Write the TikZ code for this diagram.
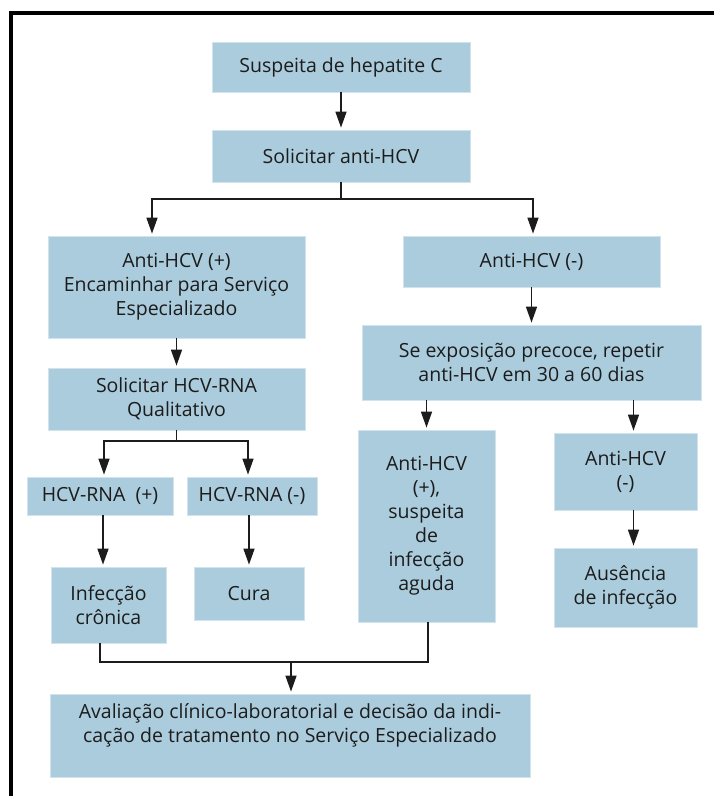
\documentclass[tikz,border=0pt]{standalone}
\usepackage{fontspec}
\setmainfont{Open Sans}
\usetikzlibrary{arrows.meta}
\definecolor{boxblue}{RGB}{171,204,220}
\definecolor{inkgray}{RGB}{28,28,28}
\tikzset{
  box/.style={fill=boxblue, draw=boxblue!55!white, line width=0.8pt, align=center,
    inner sep=0pt, text=inkgray, font=\fontsize{19.5}{24}\selectfont},
  wh/.style 2 args={minimum width=#1, minimum height=#2},
  link/.style={draw=inkgray, line width=1.5pt},
  arr/.style={link, shorten >=2pt, -{Triangle[width=11pt,length=16pt]}},
}
\begin{document}
\begin{tikzpicture}[x=1pt, y=-1pt]
   \useasboundingbox (0,0) rectangle (714,796);
   % frame
   \draw[line width=4pt] (11,796) -- (11,13) -- (714,13);
   % boxes
   \node[box, wh={258pt}{50pt}] (susp) at (341,67) {Suspeita de hepatite C};
   \node[box, wh={258pt}{52pt}] (solic) at (341,156) {Solicitar anti-HCV};
   \node[box, wh={257pt}{102pt}] (pos) at (176.5,287) {Anti-HCV (+)\\Encaminhar para Serviço\\Especializado};
   \node[box, wh={257pt}{51pt}] (neg) at (531.5,261.5) {Anti-HCV (-)};
   \node[box, wh={339pt}{75pt}] (expo) at (531.5,362.5) {Se exposição precoce, repetir\\anti-HCV em 30 a 60 dias};
   \node[box, wh={257pt}{62pt}] (rna) at (176.5,399) {Solicitar HCV-RNA\\Qualitativo};
   \node[box, wh={146pt}{38pt}] (rnapos) at (100,496) {HCV-RNA~~(+)};
   \node[box, wh={130pt}{38pt}] (rnaneg) at (252,496) {HCV-RNA (-)};
   \node[box, wh={115pt}{76pt}] (cron) at (108.5,605) {Infecção\\crônica};
   \node[box, wh={110pt}{53pt}] (cura) at (249,593.5) {Cura};
   \node[box, wh={137pt}{192pt}] (aguda) at (426.5,526) {Anti-HCV\\(+),\\suspeita\\de\\infecção\\aguda};
   \node[box, wh={143pt}{77pt}] (neg2) at (625.5,471.5) {Anti-HCV\\(-)};
   \node[box, wh={143pt}{79pt}] (ausen) at (625.5,587.5) {Ausência\\de infecção};
   \node[box, wh={480pt}{83pt}, text depth=24pt] (aval) at (290,735.5) {Avaliação clínico-laboratorial e decisão da indi-\\cação de tratamento no Serviço Especializado};
   % joints
   \coordinate (j1) at (341,199);
   \coordinate (j2) at (176.5,441);
   \coordinate (j3) at (291,662);
   \coordinate (n2) at ([xshift=8pt]neg2.north);
   % connectors
   \draw[arr] (susp) -- (solic);
   \draw[link] (solic) -- (j1);
   \draw[arr] (j1) -| ([xshift=-24.5pt]pos.north);
   \draw[arr] (j1) -| ([xshift=1.5pt]neg.north);
   \draw[arr] (pos) -- (rna);
   \draw[arr] (neg) -- (expo);
   \draw[link] (rna) -- (j2);
   \draw[arr] (j2) -| ([xshift=4pt]rnapos.north);
   \draw[arr] (j2) -| ([xshift=-4pt]rnaneg.north);
   \draw[arr] ([xshift=3pt]rnapos.south) -- ([xshift=-5.5pt]cron.north);
   \draw[arr] (cura.north |- rnaneg.south) -- (cura.north);
   \draw[arr] (aguda.north |- expo.south) -- (aguda.north);
   \draw[arr] (n2 |- expo.south) -- (n2);
   \draw[arr] ([xshift=8pt]neg2.south) -- ([xshift=8pt]ausen.north);
   \draw[link] ([xshift=-8.5pt]cron.south) |- (j3);
   \draw[link] ([xshift=1.5pt]aguda.south) |- (j3);
   \draw[arr] (j3) -- (j3 |- aval.north);
\end{tikzpicture}
\end{document}
